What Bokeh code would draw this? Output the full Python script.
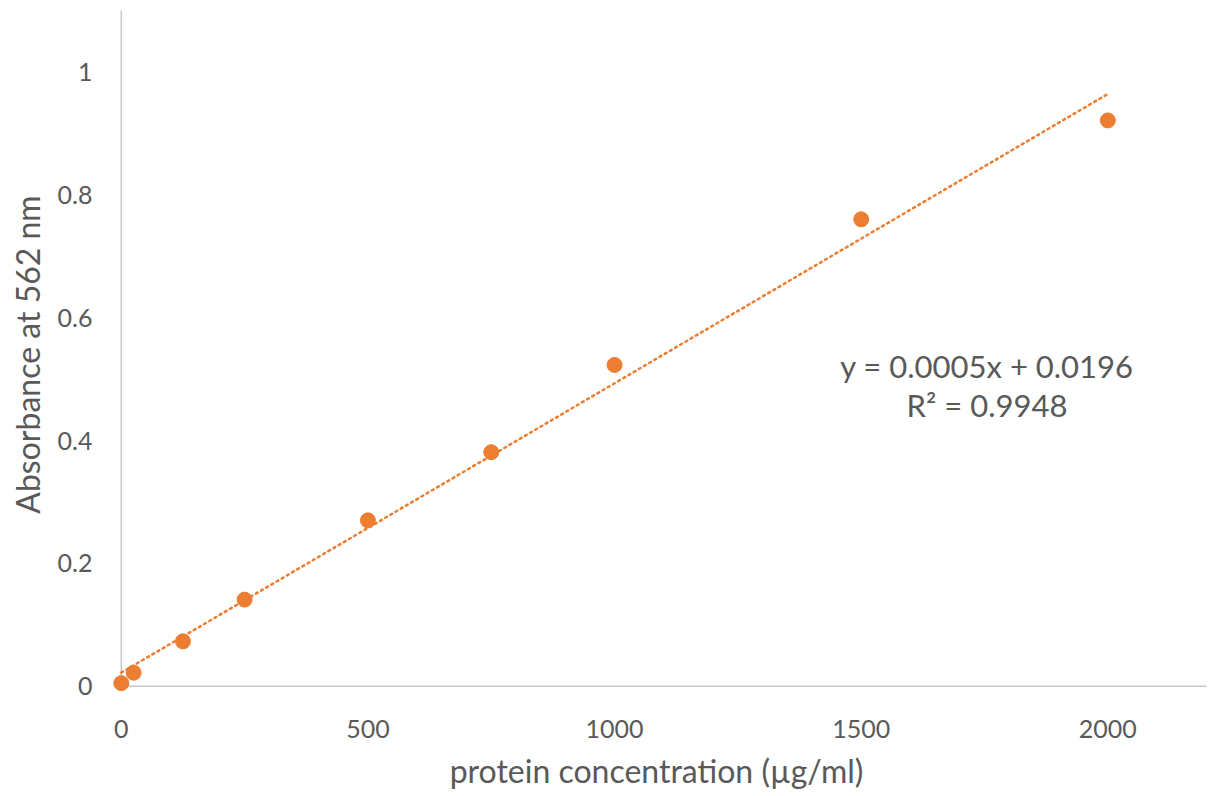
import numpy as np
from bokeh.plotting import figure
from bokeh.models import Range1d, FixedTicker
from bokeh.embed import file_html
from bokeh.resources import INLINE
from bokeh.core.properties import value

# data
concentration = [0, 25, 125, 250, 500, 750, 1000, 1500, 2000]
absorbance = [0.005, 0.022, 0.073, 0.141, 0.270, 0.381, 0.523, 0.760, 0.921]
x_ticks = [0, 500, 1000, 1500, 2000]
y_ticks = [0, 0.2, 0.4, 0.6, 0.8, 1.0]
y_tick_labels = ["0", "0.2", "0.4", "0.6", "0.8", "1"]
equation_text = "y = 0.0005x + 0.0196"
r2_text = "R\u00b2 = 0.9948"
x_title = "protein concentration (\u00b5g/ml)"
y_title = "Absorbance at 562 nm"

X_MIN, X_MAX = 0, 2200
Y_MIN, Y_MAX = 0, 1.1

FONT = "Lato"
GRAY = "#595959"
ORANGE = "#ED7D31"
AXIS = "#c8c8c8"

# linear trendline fitted on the data
slope, intercept = np.polyfit(concentration, absorbance, 1)
trend_x = [min(concentration), max(concentration)]
trend_y = [slope * v + intercept for v in trend_x]

p = figure(width=1212, height=792, output_backend="svg", toolbar_location=None,
           x_range=Range1d(-30, X_MAX), y_range=Range1d(-0.02, Y_MAX),
           min_border_left=106, min_border_right=6, min_border_top=10, min_border_bottom=92)
p.outline_line_color = None
p.grid.grid_line_color = None

# axis lines crossing at the origin
p.segment(x0=[X_MIN], y0=[Y_MIN], x1=[X_MAX], y1=[Y_MIN], line_color=AXIS, line_width=1.5)
p.segment(x0=[X_MIN], y0=[Y_MIN], x1=[X_MIN], y1=[Y_MAX], line_color=AXIS, line_width=1.5)

p.line(trend_x, trend_y, line_color=ORANGE, line_width=2.5, line_dash="2 4", line_cap="round")
p.scatter(concentration, absorbance, size=15, color=ORANGE, line_color=ORANGE)

p.text(x=[1755], y=[0.521], text=[equation_text], text_align="center", text_baseline="middle",
       text_font=value(FONT), text_font_size="31px", text_color=GRAY)
p.text(x=[1755], y=[0.458], text=[r2_text], text_align="center", text_baseline="middle",
       text_font=value(FONT), text_font_size="31px", text_color=GRAY)

xa = p.xaxis[0]
ya = p.yaxis[0]
xa.ticker = FixedTicker(ticks=x_ticks)
ya.ticker = FixedTicker(ticks=y_ticks)
ya.major_label_overrides = {t: l for t, l in zip(y_ticks, y_tick_labels)}
for ax in (xa, ya):
    ax.axis_line_color = None
    ax.major_tick_line_color = None
    ax.minor_tick_line_color = None
    ax.major_tick_out = 0
    ax.major_tick_in = 0
    ax.major_label_text_font = FONT
    ax.major_label_text_font_size = "25px"
    ax.major_label_text_color = GRAY
    ax.axis_label_text_font = FONT
    ax.axis_label_text_font_size = "32px"
    ax.axis_label_text_font_style = "normal"
    ax.axis_label_text_color = GRAY
xa.axis_label = x_title
ya.axis_label = y_title
xa.major_label_standoff = 21
ya.major_label_standoff = 14
xa.axis_label_standoff = 10
ya.axis_label_standoff = 8

open("out.html", "w").write(file_html(p, INLINE))
